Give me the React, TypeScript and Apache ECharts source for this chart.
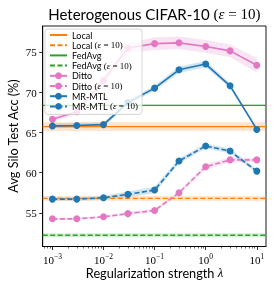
import React, { useEffect, useRef } from "react";
import * as echarts from "echarts";

// ---- data ----
const lambdas = [0.001, 0.003, 0.01, 0.03, 0.1, 0.3, 1, 3, 10];
const dittoMean = [66.67, 67.6, 71.5, 75.55, 76.1, 76.2, 75.75, 75.2, 73.4];
const dittoStd = [0.3, 0.3, 0.5, 0.6, 0.8, 0.8, 0.8, 0.8, 0.9];
const mrmtlMean = [65.84, 65.9, 66.0, 68.75, 70.55, 72.84, 73.55, 70.84, 65.4];
const mrmtlStd = [0.3, 0.3, 0.3, 0.3, 0.3, 0.4, 0.4, 0.3, 0.2];
const dittoDpMean = [54.25, 54.25, 54.5, 54.9, 55.3, 57.5, 60.75, 61.6, 61.6];
const dittoDpStd = [0.15, 0.15, 0.15, 0.2, 0.2, 0.2, 0.35, 0.3, 0.25];
const mrmtlDpMean = [56.71, 56.71, 56.88, 57.3, 57.84, 61.46, 63.34, 62.7, 60.2];
const mrmtlDpStd = [0.2, 0.2, 0.25, 0.35, 0.4, 0.3, 0.3, 0.3, 0.2];
const localMean = 65.75;
const localStd = 0.55;
const localDpMean = 56.8;
const localDpStd = 0.3;
const fedavgMean = 68.4;
const fedavgStd = 0.12;
const fedavgDpMean = 52.2;
const fedavgDpStd = 0.25;

const yTicks = [55, 60, 65, 70, 75];
const xTickExps = [-3, -2, -1, 0, 1];

const XMIN = -3.19;
const XMAX = 1.18;
const YMIN = 50.8;
const YMAX = 78.3;

const C = {
  orange: "#ff7f0e",
  green: "#2ca02c",
  pink: "#e377c2",
  blue: "#1f77b4",
};
const rgba = (hex: string, a: number) => {
  const r = parseInt(hex.slice(1, 3), 16);
  const g = parseInt(hex.slice(3, 5), 16);
  const b = parseInt(hex.slice(5, 7), 16);
  return `rgba(${r},${g},${b},${a})`;
};

const SANS = "Lato";
const SERIF = "Liberation Serif";

const minorTicks: number[] = [];
for (let n = -4; n <= 1; n++) {
  for (let k = 2; k <= 9; k++) {
    const v = Math.log10(k * Math.pow(10, n));
    if (v > XMIN && v < XMAX) minorTicks.push(v);
  }
}

const DASH = [5, 2.5];

function bandSeries(id: string, xs: number[], mean: number[], std: number[], color: string) {
  return {
    name: id + "_band",
    type: "custom",
    data: [[xs[0], mean[0]]],
    silent: true,
    clip: true,
    z: 1,
    renderItem: (_params: any, api: any) => {
      const top = xs.map((x, i) => api.coord([x, mean[i] + std[i]]));
      const bot = xs.map((x, i) => api.coord([x, mean[i] - std[i]])).reverse();
      return {
        type: "polygon",
        shape: { points: top.concat(bot) },
        style: { fill: rgba(color, 0.2), stroke: "none" },
        silent: true,
      };
    },
  };
}

function lineSeries(name: string, xs: number[], mean: number[], color: string, dashed: boolean, marker: boolean, width: number) {
  return {
    name,
    type: "line",
    data: xs.map((x, i) => [x, mean[i]]),
    symbol: marker ? "circle" : "none",
    symbolSize: 7,
    showSymbol: marker,
    itemStyle: { color },
    lineStyle: { color, width, type: dashed ? DASH : "solid" },
    z: 3,
  };
}

const legendNames = [
  "Local",
  "Local (ε = 10)",
  "FedAvg",
  "FedAvg (ε = 10)",
  "Ditto",
  "Ditto (ε = 10)",
  "MR-MTL",
  "MR-MTL (ε = 10)",
];
const noMarker = ["Local", "Local (ε = 10)", "FedAvg", "FedAvg (ε = 10)"];

export default function App() {
  const ref = useRef<HTMLDivElement>(null);
  useEffect(() => {
    if (!ref.current) return;
    const chart = echarts.init(ref.current, undefined, { renderer: "svg" });
    const xs = lambdas.map((l) => Math.log10(l));
    const hx = [XMIN, XMAX];
    const flat = (v: number) => [v, v];

    const series: any[] = [
      bandSeries("local", hx, flat(localMean), flat(localStd), C.orange),
      bandSeries("localdp", hx, flat(localDpMean), flat(localDpStd), C.orange),
      bandSeries("fedavg", hx, flat(fedavgMean), flat(fedavgStd), C.green),
      bandSeries("fedavgdp", hx, flat(fedavgDpMean), flat(fedavgDpStd), C.green),
      bandSeries("ditto", xs, dittoMean, dittoStd, C.pink),
      bandSeries("dittodp", xs, dittoDpMean, dittoDpStd, C.pink),
      bandSeries("mrmtl", xs, mrmtlMean, mrmtlStd, C.blue),
      bandSeries("mrmtldp", xs, mrmtlDpMean, mrmtlDpStd, C.blue),
      lineSeries("Local", hx, flat(localMean), C.orange, false, false, 1.3),
      lineSeries("Local (ε = 10)", hx, flat(localDpMean), C.orange, true, false, 1.3),
      lineSeries("FedAvg", hx, flat(fedavgMean), C.green, false, false, 1.3),
      lineSeries("FedAvg (ε = 10)", hx, flat(fedavgDpMean), C.green, true, false, 1.3),
      lineSeries("Ditto", xs, dittoMean, C.pink, false, true, 1.6),
      lineSeries("Ditto (ε = 10)", xs, dittoDpMean, C.pink, true, true, 1.6),
      lineSeries("MR-MTL", xs, mrmtlMean, C.blue, false, true, 1.6),
      lineSeries("MR-MTL (ε = 10)", xs, mrmtlDpMean, C.blue, true, true, 1.6),
    ];

    const legendRich = {
      s: { fontFamily: SANS, fontSize: 9, color: "#000", lineHeight: 10 },
      m: { fontFamily: SERIF, fontSize: 9, color: "#000", lineHeight: 10 },
      i: { fontFamily: SERIF, fontSize: 9, fontStyle: "italic", color: "#000", lineHeight: 10 },
    };

    chart.setOption({
      animation: false,
      grid: {
        left: 42.7,
        right: 8,
        top: 26,
        bottom: 41.5,
        show: true,
        borderColor: "#000",
        borderWidth: 0.9,
        backgroundColor: "transparent",
      },
      xAxis: [
        {
          type: "value",
          min: XMIN,
          max: XMAX,
          axisLine: { show: true, onZero: false, lineStyle: { color: "#000", width: 0.9 } },
          splitLine: { show: false },
          axisTick: { show: true, length: 3.5, customValues: xTickExps, lineStyle: { color: "#000", width: 0.8 } },
          axisLabel: {
            customValues: xTickExps,
            margin: 5,
            formatter: (v: number) => `{b|10}{s|${v < 0 ? "−" + Math.abs(v) : v}}`,
            rich: {
              b: { fontFamily: SERIF, fontSize: 11, color: "#000", verticalAlign: "bottom", lineHeight: 14 },
              s: { fontFamily: SERIF, fontSize: 7.5, color: "#000", verticalAlign: "bottom", lineHeight: 14, padding: [0, 0, 5, 0] },
            },
          },
        },
        {
          type: "value",
          min: XMIN,
          max: XMAX,
          position: "bottom",
          axisLine: { show: false, onZero: false },
          splitLine: { show: false },
          axisTick: { show: true, length: 2, customValues: minorTicks, lineStyle: { color: "#000", width: 0.6 } },
          axisLabel: { show: false },
        },
      ],
      yAxis: {
        type: "value",
        min: YMIN,
        max: YMAX,
        axisLine: { show: true, onZero: false, lineStyle: { color: "#000", width: 0.9 } },
        splitLine: { show: false },
        axisTick: { show: true, length: 3.5, customValues: yTicks, lineStyle: { color: "#000", width: 0.8 } },
        axisLabel: {
          customValues: yTicks,
          margin: 6,
          fontFamily: SERIF,
          fontSize: 11,
          color: "#000",
        },
      },
      legend: {
        data: legendNames.map((n) =>
          noMarker.includes(n) ? { name: n, itemStyle: { opacity: 0 } } : { name: n }
        ),
        orient: "vertical",
        left: 45,
        top: 29,
        itemWidth: 17,
        itemHeight: 8.5,
        itemGap: 0.2,
        padding: [1, 4, 3, 4],
        backgroundColor: "rgba(255,255,255,0.8)",
        borderColor: "#cccccc",
        borderWidth: 0.8,
        borderRadius: 3,
        selectedMode: false,
        z: 10,
        formatter: (name: string) => {
          const idx = name.indexOf(" (");
          if (idx < 0) return `{s|${name}}`;
          return `{s|${name.slice(0, idx)} }{m|(}{i|ε}{m| = 10)}`;
        },
        textStyle: { fontFamily: SANS, fontSize: 9, color: "#000", lineHeight: 10, rich: legendRich },
      },
      graphic: [
        {
          type: "text",
          x: 154.3,
          y: 13.5,
          style: {
            text: "{a|Heterogenous CIFAR-10 }{m|(}{i|ε}{m| = 10)}",
            align: "center",
            verticalAlign: "middle",
            rich: {
              a: { fontFamily: SANS, fontSize: 15, fill: "#000" },
              m: { fontFamily: SERIF, fontSize: 15, fill: "#000" },
              i: { fontFamily: SERIF, fontSize: 15, fontStyle: "italic", fill: "#000" },
            },
          },
        },
        {
          type: "text",
          x: 13,
          y: 136,
          rotation: Math.PI / 2,
          style: {
            text: "Avg Silo Test Acc (%)",
            align: "center",
            verticalAlign: "middle",
            fontFamily: SANS,
            fontSize: 12.7,
            fill: "#000",
          },
        },
        {
          type: "text",
          x: 154.5,
          y: 273,
          style: {
            text: "{a|Regularization strength }{i|λ}",
            align: "center",
            verticalAlign: "middle",
            rich: {
              a: { fontFamily: SANS, fontSize: 12.7, fill: "#000" },
              i: { fontFamily: SERIF, fontSize: 12.7, fontStyle: "italic", fill: "#000" },
            },
          },
        },
      ],
      series,
    });
    return () => chart.dispose();
  }, []);
  return <div ref={ref} style={{ position: "fixed", left: 0, top: 0, width: 274, height: 288 }} />;
}
